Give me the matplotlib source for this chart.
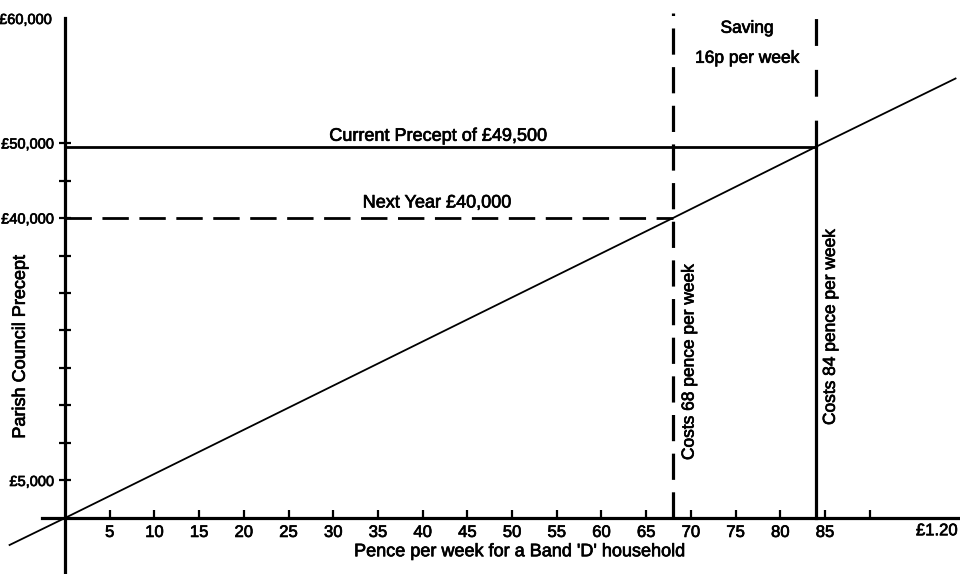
import matplotlib
matplotlib.use('Agg')
import matplotlib.pyplot as plt
import matplotlib.patheffects as pe

# Werte
pence_ticks = [5, 10, 15, 20, 25, 30, 35, 40, 45, 50, 55, 60, 65, 70, 75, 80, 85, 90]
pence_labels = ['5', '10', '15', '20', '25', '30', '35', '40', '45', '50',
                '55', '60', '65', '70', '75', '80', '85', '']
precept_ticks = [5000, 10000, 15000, 20000, 25000, 30000, 35000, 40000, 45000, 50000]
precept_labels = ['£5,000', '', '', '', '', '', '', '£40,000', '', '£50,000']

# Kostenlinie (Pence -> Precept)
line_pence = [-6.2, 0, 68, 84, 99.6]
line_precept = [-3600, 0, 40000, 49500, 58600]

current_precept = 49500
next_precept = 40000
current_pence = 84
next_pence = 68
axis_top = 67300

plt.rcParams['font.family'] = ['Liberation Sans', 'DejaVu Sans']
heavy = [pe.withStroke(linewidth=0.5, foreground='black')]

fig = plt.figure(figsize=(9.6, 5.74), dpi=100)
ax = fig.add_axes([0, 0, 1, 1])
ax.set_xlim(-7.27, 100.1)
ax.set_ylim(-7467, 69067)

for side in ['top', 'right']:
    ax.spines[side].set_visible(False)
ax.spines['left'].set_position(('data', 0))
ax.spines['bottom'].set_position(('data', 0))
ax.spines['left'].set_bounds(-7330, 66670)
ax.spines['bottom'].set_bounds(-2.6, 100.1)
ax.spines['left'].set_linewidth(2.3)
ax.spines['bottom'].set_linewidth(2.3)

ax.set_xticks(pence_ticks)
ax.set_xticklabels(pence_labels)
ax.set_yticks(precept_ticks)
ax.set_yticklabels(precept_labels)
ax.tick_params(axis='x', direction='in', length=6, width=1.6, pad=5, labelsize=12)
ax.tick_params(axis='y', direction='inout', length=9, width=1.6, pad=3, labelsize=10.5)
for lab in ax.get_xticklabels() + ax.get_yticklabels():
    lab.set_path_effects(heavy)

# Hauptlinie
ax.plot(line_pence, line_precept, color='black', linewidth=1.3)

# aktuelle Umlage
ax.plot([0, current_pence], [current_precept, current_precept], color='black', linewidth=2.0)
ax.plot([current_pence, current_pence], [0, current_precept], color='black', linewidth=2.3)
l84, = ax.plot([current_pence, current_pence], [current_precept, axis_top],
               color='black', linewidth=2.3)
l84.set_dashes((8.4, 7.5))

# naechstes Jahr
l40, = ax.plot([0, next_pence], [next_precept, next_precept], color='black', linewidth=2.0)
l40.set_dashes((9.5, 3.8))
l68, = ax.plot([next_pence, next_pence], [0, axis_top], color='black', linewidth=2.3)
l68.set_dashes((8.2, 3.9))

fs = 12.5
texts = [
    ax.text(41.7, 50900, 'Current Precept of £49,500', ha='center', va='center', fontsize=13),
    ax.text(41.6, 42000, 'Next Year £40,000', ha='center', va='center', fontsize=13),
    ax.text(76.3, 65300, 'Saving', ha='center', va='center', fontsize=fs),
    ax.text(76.3, 61300, '16p per week', ha='center', va='center', fontsize=fs),
    ax.text(69.8, 20800, 'Costs 68 pence per week', ha='center', va='center',
            rotation=90, fontsize=fs),
    ax.text(85.6, 25470, 'Costs 84 pence per week', ha='center', va='center',
            rotation=90, fontsize=fs),
    ax.text(-5.0, 22800, 'Parish Council Precept', ha='center', va='center',
            rotation=90, fontsize=13),
    ax.text(50.8, -4500, "Pence per week for a Band 'D' household", ha='center',
            va='center', fontsize=13),
    ax.text(97.5, -1700, '£1.20', ha='center', va='center', fontsize=12),
    ax.text(-1.4, 66400, '£60,000', ha='right', va='center', fontsize=10.5),
]
for t in texts:
    t.set_path_effects(heavy)

fig.savefig('out.png', dpi=100)
